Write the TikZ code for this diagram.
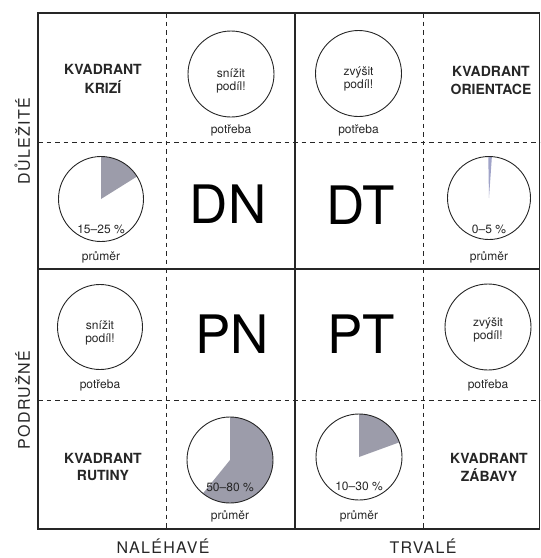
\documentclass[tikz,border=0pt]{standalone}
\usepackage{fontspec}
\setmainfont{TeX Gyre Heros}
\newfontfamily\axisfont[LetterSpace=8]{TeX Gyre Heros}
\definecolor{ink}{HTML}{262626}
\definecolor{piegray}{HTML}{9C9CAA}
\definecolor{pieblue}{HTML}{A0A3C8}
\tikzset{
  grid solid/.style={draw=ink, line width=1.4pt},
  grid dashed/.style={draw=ink, line width=0.9pt, dash pattern=on 4.5pt off 4pt},
  ring/.style={circle, draw=ink, line width=0.9pt, minimum size=86pt, inner sep=0pt},
  smalltxt/.style={anchor=base, inner sep=0pt, text=ink, font=\fontsize{12}{14}\selectfont},
  quadtxt/.style={anchor=base, inner sep=0pt, text=ink, font=\fontsize{14}{16}\selectfont\bfseries},
  bigtxt/.style={anchor=base, inner sep=0pt, text=black, font=\fontsize{53}{60}\selectfont},
  axistxt/.style={anchor=base, inner sep=0pt, text=ink, font=\fontsize{16}{18}\selectfont\axisfont},
}
\begin{document}
\begin{tikzpicture}[x=1pt, y=-1pt]
\useasboundingbox (0,0) rectangle (541,558);
% grid coordinates
\coordinate (TL) at (38,13);
\coordinate (BR) at (539.5,529);
% dashed lines
\draw[grid dashed] (166,13) -- (166,529);
\draw[grid dashed] (423,13) -- (423,529);
\draw[grid dashed] (38,142) -- (539.5,142);
\draw[grid dashed] (38,400) -- (539.5,400);
% solid lines
\draw[grid solid] (295,13) -- (295,529);
\draw[grid solid] (38,269) -- (539.5,269);
\draw[grid solid] (TL) rectangle (BR);

% ---------- row 1 ----------
\node[quadtxt] (krizi1) at (103,74) {KVADRANT};
\node[quadtxt] (krizi2) at (103,93) {KRIZÍ};
\node[ring] (c1) at (231,74) {};
\node[smalltxt] (c1a) at (231,77) {snížit};
\node[smalltxt] (c1b) at (231,90) {podíl!};
\node[smalltxt] (c1p) at (231,133) {potřeba};
\node[ring] (c2) at (358.5,73.5) {};
\node[smalltxt] (c2a) at (358.5,75) {zvýšit};
\node[smalltxt] (c2b) at (358.5,88) {podíl!};
\node[smalltxt] (c2p) at (358.5,133) {potřeba};
\node[quadtxt] (ori1) at (491,76) {KVADRANT};
\node[quadtxt] (ori2) at (491,94) {ORIENTACE};

% ---------- row 2 ----------
\coordinate (p1) at (101,199);
\fill[piegray] (p1) -- ++(-90:42.5) arc[start angle=-90, end angle=-32, radius=42.5] -- cycle;
\node[ring, minimum size=85pt] (pie1) at (p1) {};
\node[smalltxt] (pie1t) at (101,233) {15–25 \%};
\node[smalltxt] (pie1m) at (101,260) {průměr};
\node[bigtxt] (dn) at (228,223) {DN};
\node[bigtxt] (dt) at (361,224) {DT};
\coordinate (p2) at (489,198);
\fill[pieblue] (p2) -- ++(-91:41.5) arc[start angle=-91, end angle=-86, radius=41.5] -- cycle;
\node[ring, minimum size=83pt] (pie2) at (p2) {};
\node[smalltxt] (pie2t) at (489,233) {0–5 \%};
\node[smalltxt] (pie2m) at (489,260) {průměr};

% ---------- row 3 ----------
\node[ring, minimum size=85pt] (c3) at (100,327) {};
\node[smalltxt] (c3a) at (100,329) {snížit};
\node[smalltxt] (c3b) at (100,342) {podíl!};
\node[smalltxt] (c3p) at (100,388) {potřeba};
\node[bigtxt] (pn) at (232,353) {PN};
\node[bigtxt] (pt) at (361,353) {PT};
\node[ring] (c4) at (488,327) {};
\node[smalltxt] (c4a) at (488,326) {zvýšit};
\node[smalltxt] (c4b) at (488,339) {podíl!};
\node[smalltxt] (c4p) at (488,388) {potřeba};

% ---------- row 4 ----------
\node[quadtxt] (rut1) at (103,463) {KVADRANT};
\node[quadtxt] (rut2) at (103,480) {RUTINY};
\coordinate (p3) at (230,460);
\fill[piegray] (p3) -- ++(-90:43) arc[start angle=-90, end angle=129, radius=43] -- cycle;
\node[ring] (pie3) at (p3) {};
\node[smalltxt] (pie3t) at (230,491) {50–80 \%};
\node[smalltxt] (pie3m) at (230,519) {průměr};
\coordinate (p4) at (359,457);
\fill[piegray] (p4) -- ++(-90:43) arc[start angle=-90, end angle=-20, radius=43] -- cycle;
\node[ring] (pie4) at (p4) {};
\node[smalltxt] (pie4t) at (359,490) {10–30 \%};
\node[smalltxt] (pie4m) at (359,519) {průměr};
\node[quadtxt] (zab1) at (489,463) {KVADRANT};
\node[quadtxt] (zab2) at (489,481) {ZÁBAVY};

% ---------- axes ----------
\node[axistxt, rotate=90] (ax1) at (30,141) {DŮLEŽITÉ};
\node[axistxt, rotate=90] (ax2) at (30,400) {PODRUŽNÉ};
\node[axistxt] (ax3) at (163,553) {NALÉHAVÉ};
\node[axistxt] (ax4) at (423,553) {TRVALÉ};
\end{tikzpicture}
\end{document}
